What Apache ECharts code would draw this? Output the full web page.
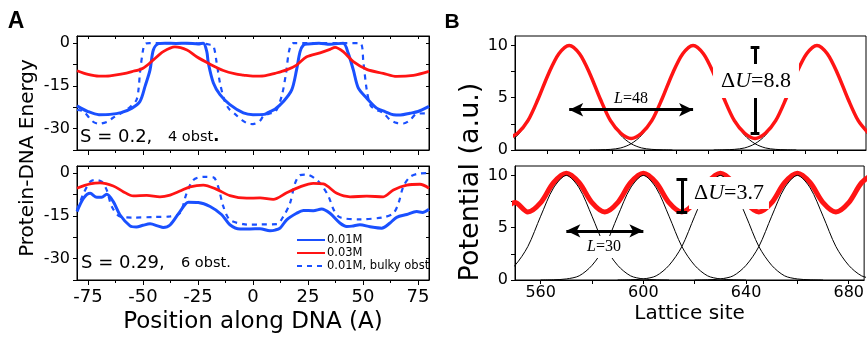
<!DOCTYPE html>
<html>
<head>
<meta charset="utf-8">
<script src="https://cdn.jsdelivr.net/npm/echarts@6/dist/echarts.min.js"></script>
<style>
  html, body { margin: 0; padding: 0; background: #fff; }
  #chart { width: 867px; height: 337px; }
</style>
</head>
<body>
<div id="chart"></div>
<script>
// ---- panel A: energy profiles, [position (A), energy] ----
const blueTop = [[-80,-22],[-75,-24],[-70,-25.1],[-65,-25],[-60,-24.4],[-55,-22.8],[-51.4,-20.5],[-49,-15],[-46.8,-9.4],
  [-45.3,-2.4],[-43,-0.2],[-40,0],[-35,-0.1],[-30,0],[-25,-0.3],[-22.6,0],[-21,-3],[-20.3,-7],[-18,-14],[-15,-18.1],
  [-10.5,-21.6],[-4.4,-24.5],[0,-25.1],[5,-25],[7.7,-24],[10,-23.2],[13.8,-20.5],[17.6,-16.4],[19.8,-9.4],[21.4,-3],
  [22.9,-0.7],[25,-0.3],[30,0],[35,-0.4],[41,0],[43.3,-3.6],[45.6,-9.4],[47.9,-15.8],[51.7,-19.3],[56.2,-22.8],
  [60,-24],[63.8,-25.1],[67,-25.2],[71.4,-24.6],[75,-24],[80,-22.2]];
const redTop = [[-80,-9.7],[-75,-11],[-70,-11.6],[-65,-11.5],[-60,-10.9],[-55,-10],[-50,-8.8],[-45.3,-5.9],[-40.8,-3],
  [-35.5,-1.3],[-30,-2.4],[-25.6,-4.8],[-19.5,-7.4],[-13.5,-9.6],[-8,-10.8],[-4.4,-11.2],[0,-11.6],[5,-11.5],[10,-10.6],
  [15.3,-9.4],[19.8,-7.7],[24.4,-4.8],[30.5,-3.4],[35,-2.2],[37.3,-1.5],[41,-3],[45.6,-6.5],[51.7,-9.2],[59.2,-10.6],
  [65.3,-11.7],[72.9,-11.3],[80,-9.9]];
const dashTop = [[-80,-23.4],[-77,-24],[-73,-27.4],[-70,-28.3],[-66,-27.5],[-63.6,-26.2],[-60,-24.6],[-56,-22.5],
  [-53,-20],[-52,-16],[-51.4,-10.6],[-50,-2.5],[-49,-0.3],[-47,0],[-40,0],[-30,0],[-22,-0.2],[-20,-0.5],[-18,-1],
  [-16.5,-7],[-15,-14],[-13,-20],[-11,-23],[-8,-25],[-5,-27],[-2,-28.3],[0,-28.4],[3,-27.4],[4.7,-25.7],[8,-24.6],
  [10,-24.3],[13,-18.7],[15,-10.6],[16.5,-2.4],[18.3,0],[30,0],[40,0],[48.6,0],[50.2,-7],[51.7,-16.4],[53.5,-22],
  [56.2,-23.4],[59.2,-24.5],[62.3,-26.9],[65.3,-28],[68.3,-28.2],[71.4,-27],[74.4,-24.8],[80,-24.6]];

const blueBot = [[-80,-13.5],[-77,-8.8],[-74,-7.1],[-71,-8.5],[-68.8,-8.5],[-66.5,-7.4],[-63.5,-10],[-60.5,-14.6],
  [-55.9,-18.5],[-53,-18.9],[-50,-18.3],[-46.8,-17.8],[-43,-18.6],[-40.8,-19.1],[-37.7,-18.2],[-33.2,-13.5],
  [-29.4,-10.2],[-24.9,-10.3],[-19.5,-11.7],[-14.2,-14.6],[-10.5,-18.1],[-5.9,-19.6],[-1.4,-19.6],[3.2,-19.5],
  [7.7,-20.2],[10,-20],[12.3,-19.3],[15.3,-16.4],[19.8,-14.1],[22.9,-13.1],[27.4,-13.2],[31.2,-12.6],[35,-14.1],
  [39.5,-17.5],[42.6,-18.7],[45,-18.6],[48.6,-18.1],[53.2,-18.8],[58.5,-19.3],[62.3,-17.5],[65.3,-15.5],
  [69.9,-14.5],[74.4,-13.5],[77,-13.8],[80,-12.7]];
const redBot = [[-80,-5.3],[-74.1,-3.8],[-69.5,-3.4],[-63.5,-4.5],[-59,-6.5],[-54.4,-8],[-48.3,-7.8],[-42.3,-8.3],
  [-37.7,-7.7],[-33.2,-6.3],[-28.6,-4.8],[-22.6,-4.2],[-16.5,-5.7],[-10.5,-7.9],[-2.9,-8.8],[3.2,-8.7],[9.2,-9.2],
  [15.3,-6.9],[21.4,-4.8],[27.4,-3.6],[32,-3.8],[38.1,-7.1],[44.1,-8.3],[51.7,-8.1],[59.2,-8.3],[63.8,-5.9],
  [69.9,-4.2],[75.9,-3.9],[80,-5.3]];
const dashBot = [[-80,-12.9],[-77,-7.1],[-74,-3],[-71.8,-2.4],[-68.8,-3],[-66.5,-5.9],[-64.2,-11.7],[-60.5,-15.2],
  [-54.4,-15.6],[-45,-15.4],[-37.7,-15.2],[-33.2,-14],[-30.2,-7.1],[-27.1,-2.4],[-22.6,-1.3],[-18,-1.5],[-15.8,-4.8],
  [-13.5,-11.7],[-10.5,-16.4],[-4.4,-17.9],[-1.4,-18.1],[3.2,-18],[10.8,-17.9],[13.8,-15.2],[16.8,-10.6],
  [19.1,-3.6],[21.4,-0.7],[24.4,-0.5],[28.2,-1.9],[31.2,-4.2],[34.4,-8.3],[36.7,-12.9],[39.5,-15.5],[48.6,-16.2],
  [59.2,-15.5],[63.8,-14.1],[66.1,-10.6],[68.3,-4.8],[71.4,-1.3],[75.9,-0.1],[80,0]];

// ---- panel B: potentials, [lattice site, potential] ----
const redPotTop = [[547,1.1],[551,1.6],[555,2.8],[559,4.9],[563,7.3],[567,9.2],[571,10],[575,9.2],[579,7.3],[583,4.9],
  [587,2.8],[591,1.6],[595,1.1],[599,1.6],[603,2.8],[607,4.9],[611,7.3],[615,9.2],[619,10],[623,9.2],[627,7.3],
  [631,4.9],[635,2.8],[639,1.6],[643,1.1],[647,1.6],[651,2.8],[655,4.9],[659,7.3],[663,9.2],[667,10],[671,9.2],
  [675,7.3],[679,4.9],[683,2.8],[687,1.6]];
const wellTop1 = [[547,0.6],[551,1.4],[555,2.8],[559,4.9],[563,7.3],[567,9.2],[571,10],[575,9.2],[579,7.3],[583,4.9],
  [587,2.8],[591,1.4],[595,0.6],[599,0.2],[603,0.06],[607,0.02],[611,0]];
const wellTop2 = [[579,0],[583,0.02],[587,0.06],[591,0.2],[595,0.6],[599,1.4],[603,2.8],[607,4.9],[611,7.3],[615,9.2],
  [619,10],[623,9.2],[627,7.3],[631,4.9],[635,2.8],[639,1.4],[643,0.6],[647,0.2],[651,0.06],[655,0.02],[659,0]];
const wellTop3 = [[627,0],[631,0.02],[635,0.06],[639,0.2],[643,0.6],[647,1.4],[651,2.8],[655,4.9],[659,7.3],[663,9.2],
  [667,10],[671,9.2],[675,7.3],[679,4.9],[683,2.8],[687,1.4]];

const redPotBot = [[545,6.5],[550,7.4],[555,6.5],[560,7.4],[565,9.3],[570,10.2],[575,9.3],[580,7.4],[585,6.5],[590,7.4],
  [595,9.3],[600,10.2],[605,9.3],[610,7.4],[615,6.5],[620,7.4],[625,9.3],[630,10.2],[635,9.3],[640,7.4],[645,6.5],
  [650,7.4],[655,9.3],[660,10.2],[665,9.3],[670,7.4],[675,6.5],[680,7.4],[685,9.3],[690,10.2]];
const wellBot1 = [[545,0.4],[550,1.4],[555,3.2],[560,6.1],[565,8.8],[570,10],[575,8.8],[580,6.1],[585,3.2],[590,1.4],
  [595,0.4],[600,0.1],[605,0.02],[610,0]];
const wellBot2 = [[560,0],[565,0.02],[570,0.1],[575,0.4],[580,1.4],[585,3.2],[590,6.1],[595,8.8],[600,10],[605,8.8],
  [610,6.1],[615,3.2],[620,1.4],[625,0.4],[630,0.1],[635,0.02],[640,0]];
const wellBot3 = [[590,0],[595,0.02],[600,0.1],[605,0.4],[610,1.4],[615,3.2],[620,6.1],[625,8.8],[630,10],[635,8.8],
  [640,6.1],[645,3.2],[650,1.4],[655,0.4],[660,0.1],[665,0.02],[670,0]];
const wellBot4 = [[620,0],[625,0.02],[630,0.1],[635,0.4],[640,1.4],[645,3.2],[650,6.1],[655,8.8],[660,10],[665,8.8],
  [670,6.1],[675,3.2],[680,1.4],[685,0.4],[690,0.1]];

// annotations in data units: [x1, x2, y] for arrows, [x, yLow, yHigh] for the ΔU bars
const spanTop = [571, 619, 3.85];
const spanBot = [570, 600, 4.7];
const barTop = [643, 1.6, 9.85];
const barBot = [615, 6.45, 9.65];

// ticks and labels
const posLabels = [-75, -50, -25, 0, 25, 50, 75];
const posMinor = [-62.5, -37.5, -12.5, 12.5, 37.5, 62.5];
const posAll = [-75, -62.5, -50, -37.5, -25, -12.5, 0, 12.5, 25, 37.5, 50, 62.5, 75];
const energyTicks = [-37.5, -30, -22.5, -15, -7.5, 0];
const energyLabels = [-30, -15, 0];
const siteTicksTop = [562.5, 575, 587.5, 600, 612.5, 625, 637.5, 650, 662.5, 675];
const siteTicksBot = [560, 580, 600, 620, 640, 660, 680];
const siteLabels = [560, 600, 640, 680];
const potTicks = [0, 2.5, 5, 7.5, 10];
const potLabels = [0, 5, 10];

const BLUE = '#1a50ff';
const RED = '#ff1414';
const FONT = 'DejaVu Sans';
const SERIF = 'Liberation Serif';

const gridsPx = [
  { left: 77, top: 36, width: 352, height: 114 },
  { left: 77, top: 166, width: 352, height: 114 },
  { left: 515, top: 36, width: 351, height: 114 },
  { left: 515, top: 166, width: 351, height: 114 }
];

function axisLine(show) {
  return { show: show, onZero: false, lineStyle: { color: '#000', width: 1 } };
}
function ticks(values, len, inside) {
  return { show: true, customValues: values, length: len, inside: !!inside, lineStyle: { color: '#000', width: 1 } };
}
function noLabel() { return { show: false }; }
function labels(values, size, margin) {
  return { show: true, customValues: values, fontSize: size, fontFamily: FONT, color: '#000', margin: margin };
}

const xAxes = [
  // panel A top
  { gridIndex: 0, type: 'value', min: -80, max: 80, position: 'bottom', axisLine: axisLine(true),
    axisTick: ticks(posLabels, 5), axisLabel: noLabel(), splitLine: { show: false } },
  { gridIndex: 0, type: 'value', min: -80, max: 80, position: 'bottom', axisLine: axisLine(false),
    axisTick: ticks(posMinor, 3), axisLabel: noLabel(), splitLine: { show: false } },
  { gridIndex: 0, type: 'value', min: -80, max: 80, position: 'top', axisLine: axisLine(true),
    axisTick: ticks(posAll, 3, true), axisLabel: noLabel(), splitLine: { show: false } },
  // panel A bottom
  { gridIndex: 1, type: 'value', min: -80, max: 80, position: 'bottom', axisLine: axisLine(true),
    axisTick: ticks(posLabels, 5), axisLabel: labels(posLabels, 18, 8), splitLine: { show: false },
    name: 'Position along DNA (A)', nameLocation: 'middle', nameGap: 31,
    nameTextStyle: { fontSize: 23, fontFamily: FONT, color: '#000' } },
  { gridIndex: 1, type: 'value', min: -80, max: 80, position: 'bottom', axisLine: axisLine(false),
    axisTick: ticks(posMinor, 3), axisLabel: noLabel(), splitLine: { show: false } },
  { gridIndex: 1, type: 'value', min: -80, max: 80, position: 'top', axisLine: axisLine(true),
    axisTick: ticks(posAll, 3, true), axisLabel: noLabel(), splitLine: { show: false } },
  // panel B
  { gridIndex: 2, type: 'value', min: 550, max: 686, position: 'bottom', axisLine: axisLine(true),
    axisTick: ticks(siteTicksTop, 4), axisLabel: noLabel(), splitLine: { show: false } },
  { gridIndex: 3, type: 'value', min: 550, max: 686, position: 'bottom', axisLine: axisLine(true),
    axisTick: ticks(siteTicksBot, 4), axisLabel: labels(siteLabels, 16, 5), splitLine: { show: false },
    name: 'Lattice site', nameLocation: 'middle', nameGap: 24,
    nameTextStyle: { fontSize: 20, fontFamily: FONT, color: '#000' } }
];

const yAxes = [
  { gridIndex: 0, type: 'value', min: -37.5, max: 2.5, position: 'left', axisLine: axisLine(true),
    axisTick: ticks(energyTicks, 4), axisLabel: labels(energyLabels, 16, 7), splitLine: { show: false } },
  { gridIndex: 0, type: 'value', min: -37.5, max: 2.5, position: 'right', axisLine: axisLine(true),
    axisTick: ticks(energyTicks, 3, true), axisLabel: noLabel(), splitLine: { show: false } },
  { gridIndex: 1, type: 'value', min: -37.5, max: 2.5, position: 'left', axisLine: axisLine(true),
    axisTick: ticks(energyTicks, 4), axisLabel: labels(energyLabels, 16, 7), splitLine: { show: false } },
  { gridIndex: 1, type: 'value', min: -37.5, max: 2.5, position: 'right', axisLine: axisLine(true),
    axisTick: ticks(energyTicks, 3, true), axisLabel: noLabel(), splitLine: { show: false } },
  { gridIndex: 2, type: 'value', min: 0, max: 10.9, position: 'left', axisLine: axisLine(true),
    axisTick: ticks(potTicks, 4), axisLabel: labels(potLabels, 16, 7), splitLine: { show: false } },
  { gridIndex: 3, type: 'value', min: 0, max: 10.9, position: 'left', axisLine: axisLine(true),
    axisTick: ticks(potTicks, 4), axisLabel: labels(potLabels, 16, 7), splitLine: { show: false } }
];

function line(name, data, xi, yi, color, width, dash, z) {
  return {
    type: 'line', name: name, data: data, xAxisIndex: xi, yAxisIndex: yi,
    showSymbol: false, symbol: 'none', smooth: 0.3, z: z || 2, silent: true,
    lineStyle: { color: color, width: width, type: dash || 'solid' },
    itemStyle: { color: color }
  };
}

function arrowAndBar(span, bar, capHalf) {
  const arrowEnd = { symbol: 'arrow', symbolSize: [10, 14] };
  return {
    silent: true, symbol: ['none', 'none'], label: { show: false },
    lineStyle: { color: '#000', width: 3, type: 'solid' },
    emphasis: { disabled: true },
    data: [
      [Object.assign({ coord: [span[0], span[2]] }, arrowEnd), Object.assign({ coord: [span[1], span[2]] }, arrowEnd)],
      [{ coord: [bar[0], bar[1]] }, { coord: [bar[0], bar[2]] }],
      [{ coord: [bar[0] - capHalf, bar[1]] }, { coord: [bar[0] + capHalf, bar[1]] }],
      [{ coord: [bar[0] - capHalf, bar[2]] }, { coord: [bar[0] + capHalf, bar[2]] }]
    ]
  };
}

const redTopB = line('potTop', redPotTop, 6, 4, RED, 3.5, 'solid', 4);
redTopB.markLine = arrowAndBar(spanTop, barTop, 1.7);
const redBotB = line('potBot', redPotBot, 7, 5, RED, 5, 'solid', 2);
redBotB.markLine = arrowAndBar(spanBot, barBot, 2.1);

const series = [
  line('0.01M', blueTop, 0, 0, BLUE, 3),
  line('0.01M, bulky obst', dashTop, 0, 0, BLUE, 2.2, [5, 5]),
  line('0.03M', redTop, 0, 0, RED, 2.8, 'solid', 3),
  line('0.01M', blueBot, 3, 2, BLUE, 3),
  line('0.01M, bulky obst', dashBot, 3, 2, BLUE, 2.2, [5, 5]),
  line('0.03M', redBot, 3, 2, RED, 2.8, 'solid', 3),
  line('wellT1', wellTop1, 6, 4, '#000', 1),
  line('wellT2', wellTop2, 6, 4, '#000', 1),
  line('wellT3', wellTop3, 6, 4, '#000', 1),
  redTopB,
  redBotB,
  line('wellB1', wellBot1, 7, 5, '#000', 1, 'solid', 3),
  line('wellB2', wellBot2, 7, 5, '#000', 1, 'solid', 3),
  line('wellB3', wellBot3, 7, 5, '#000', 1, 'solid', 3),
  line('wellB4', wellBot4, 7, 5, '#000', 1, 'solid', 3)
];

function txt(x, y, text, font, extra) {
  return {
    type: 'text', x: x, y: y, z: 100, silent: true,
    style: Object.assign({ text: text, font: font, fill: '#000', align: 'left', verticalAlign: 'middle' }, extra || {})
  };
}

const serifRich = {
  n: { fontFamily: SERIF, fontSize: 22, color: '#000' },
  i: { fontFamily: SERIF, fontSize: 22, fontStyle: 'italic', color: '#000' },
  sn: { fontFamily: SERIF, fontSize: 16, color: '#000' },
  si: { fontFamily: SERIF, fontSize: 16, fontStyle: 'italic', color: '#000' }
};

const graphics = [
  txt(16, 22, 'A', 'bold 23px "Liberation Sans"', { align: 'center' }),
  txt(452, 22, 'B', 'bold 21px "Liberation Sans"', { align: 'center' }),
  { type: 'text', x: 28, y: 158, rotation: Math.PI / 2, z: 100, silent: true,
    style: { text: 'Protein-DNA Energy', font: '20px "DejaVu Sans"', fill: '#000', align: 'center', verticalAlign: 'middle' } },
  { type: 'text', x: 471, y: 182, rotation: Math.PI / 2, z: 100, silent: true,
    style: { text: 'Potential (a.u.)', font: '27px "DejaVu Sans"', fill: '#000', align: 'center', verticalAlign: 'middle' } },
  txt(80, 137, 'S = 0.2,', '18px "DejaVu Sans"'),
  txt(168, 137, '{n|4 obst}{b|.}', '14.5px "DejaVu Sans"', {
    rich: { n: { fontFamily: FONT, fontSize: 14.5, color: '#000' }, b: { fontFamily: FONT, fontSize: 16, fontWeight: 'bold', color: '#000' } } }),
  txt(81, 263, 'S = 0.29,', '18px "DejaVu Sans"'),
  txt(181, 263, '6 obst.', '14.5px "DejaVu Sans"'),
  txt(756, 81, '{n|\u0394}{i|U}{n|=8.8}', '22px "Liberation Serif"', {
    align: 'center', rich: serifRich, backgroundColor: '#fff', padding: [6, 8] }),
  txt(729, 193, '{n|\u0394}{i|U}{n|=3.7}', '21px "Liberation Serif"', {
    align: 'center', rich: serifRich, backgroundColor: '#fff', padding: [5, 5] }),
  txt(631, 99, '{si|L}{sn|=48}', '16px "Liberation Serif"', { align: 'center', rich: serifRich }),
  txt(604, 247, '{si|L}{sn|=30}', '16px "Liberation Serif"', {
    align: 'center', rich: serifRich, backgroundColor: '#fff', padding: [3, 3] })
];

const option = {
  animation: false,
  backgroundColor: '#fff',
  textStyle: { fontFamily: FONT },
  grid: gridsPx.map(g => Object.assign({ show: true, borderColor: '#000', borderWidth: 1, backgroundColor: 'transparent' }, g)),
  xAxis: xAxes,
  yAxis: yAxes,
  legend: {
    data: ['0.01M', '0.03M', '0.01M, bulky obst'],
    orient: 'vertical', left: 291, top: 229,
    itemWidth: 28, itemHeight: 10, itemGap: 1,
    itemStyle: { opacity: 0 },
    textStyle: { fontSize: 11.5, fontFamily: FONT, color: '#000', padding: [0, 0, 0, -3] },
    selectedMode: false
  },
  series: series,
  graphic: graphics
};

const chart = echarts.init(document.getElementById('chart'), null, { renderer: 'canvas' });
chart.setOption(option);
</script>
</body>
</html>
